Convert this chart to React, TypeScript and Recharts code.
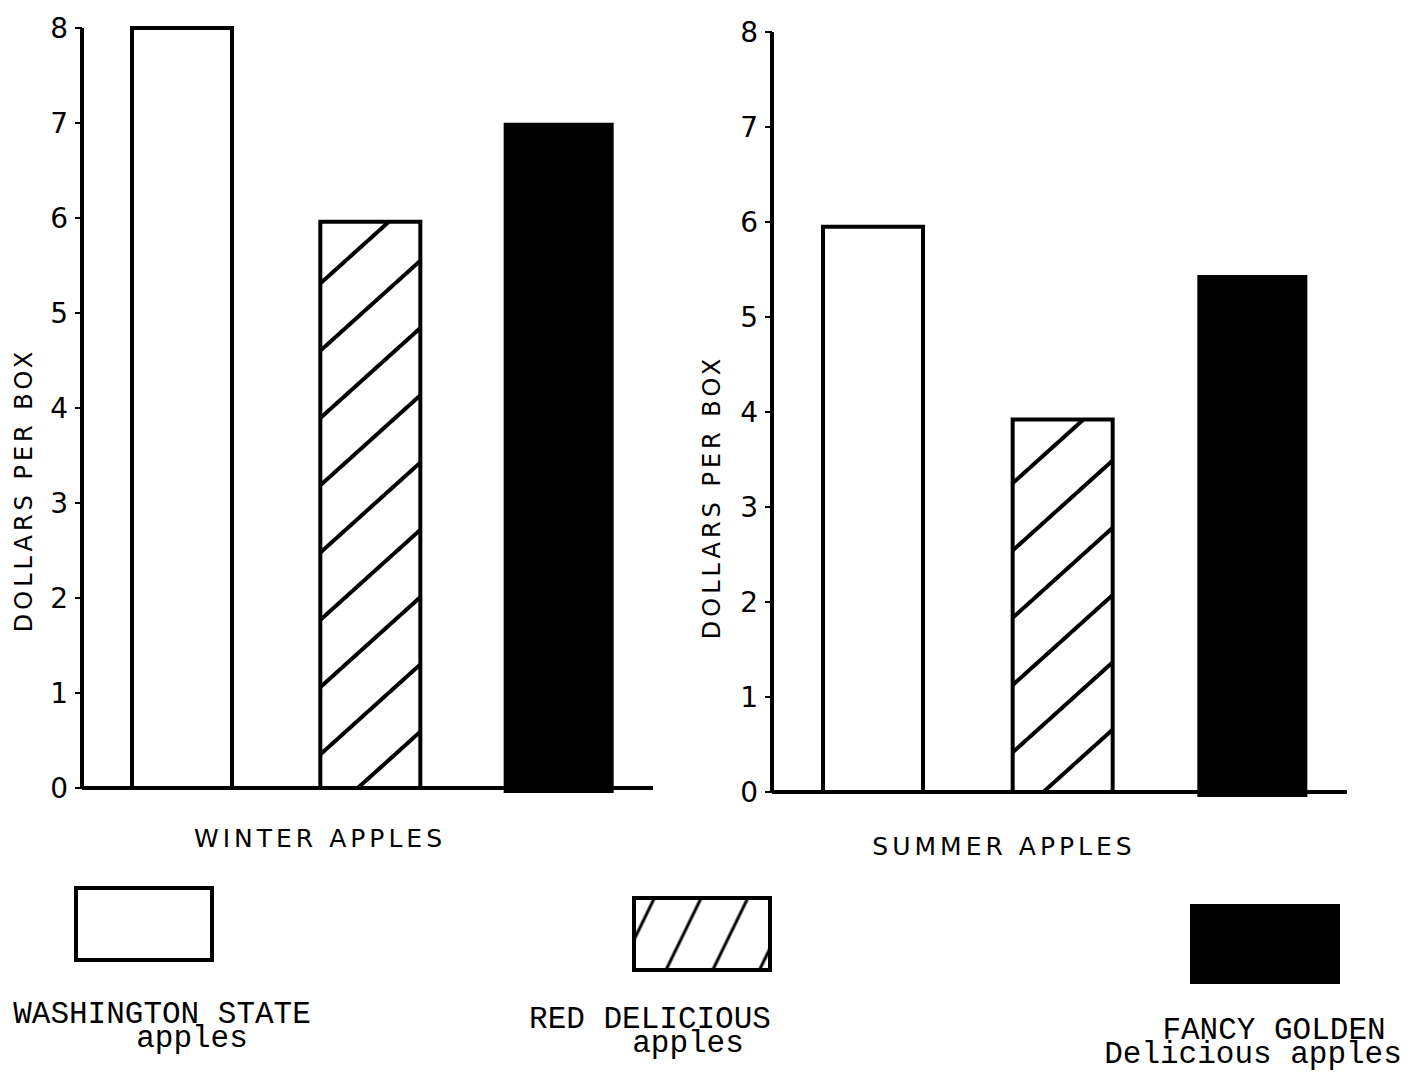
import { BarChart, Bar, Cell, XAxis, YAxis } from 'recharts'

const varieties = ['Washington State', 'Red Delicious', 'Fancy Golden Delicious']
const winterPrices = [8, 5.96, 6.95]
const summerPrices = [5.95, 3.92, 5.39]
const priceTicks = [0, 1, 2, 3, 4, 5, 6, 7, 8]
const legendLabels = [
  ['WASHINGTON STATE', 'apples'],
  ['RED DELICIOUS', 'apples'],
  ['FANCY GOLDEN', 'Delicious apples'],
]

const fills = ['#ffffff', 'url(#hatch)', '#000000']
const sans = '"DejaVu Sans", sans-serif'
const mono = '"Liberation Mono", monospace'

type ChartProps = {
  id: string
  prices: number[]
  title: string
  left: number
  top: number
  bottom: number
  right: number
  yLabelX: number
  yLabelY: number
  titleX: number
  titleY: number
}

function ApplesChart({ id, prices, title, left, top, bottom, right, yLabelX, yLabelY, titleX, titleY }: ChartProps) {
  const data = varieties.map((name, i) => ({ name, price: prices[i] }))
  return (
    <div style={{ position: 'absolute', left, top: 0 }}>
      <BarChart width={720} height={870} data={data} margin={{ top, right, bottom, left: 0 }}>
        <defs>
          <pattern id="hatch" patternUnits="userSpaceOnUse" width={12} height={50} patternTransform="rotate(-42)">
            <line x1={0} y1={25} x2={12} y2={25} stroke="#000" strokeWidth={4} />
          </pattern>
        </defs>
        <XAxis
          dataKey="name"
          tick={false}
          tickLine={false}
          height={60}
          padding={{ left: 6, right: 0 }}
          axisLine={{ stroke: '#000', strokeWidth: 4 }}
          label={{
            content: () => (
              <text x={titleX} y={titleY} textAnchor="middle" fontFamily={sans} fontSize={25} letterSpacing={4} fill="#000">
                {title}
              </text>
            ),
          }}
        />
        <YAxis
          width={82}
          domain={[0, 8]}
          ticks={priceTicks}
          interval={0}
          tickSize={7}
          tickMargin={7}
          tick={{ fontFamily: sans, fontSize: 28, fill: '#000' }}
          tickLine={{ stroke: '#000', strokeWidth: 2 }}
          axisLine={{ stroke: '#000', strokeWidth: 4 }}
          label={{
            content: () => (
              <text
                x={yLabelX}
                y={yLabelY}
                transform={`rotate(-90, ${yLabelX}, ${yLabelY})`}
                textAnchor="middle"
                dominantBaseline="central"
                fontFamily={sans}
                fontSize={24}
                letterSpacing={4}
                fill="#000"
              >
                DOLLARS PER BOX
              </text>
            ),
          }}
        />
        <Bar dataKey="price" barSize={100} stroke="#000" strokeWidth={4} isAnimationActive={false}>
          {data.map((d, i) => (
            <Cell key={`${id}-${d.name}`} fill={fills[i]} strokeWidth={i === 2 ? 10 : 4} />
          ))}
        </Bar>
      </BarChart>
    </div>
  )
}

function LegendSwatch({ kind }: { kind: number }) {
  return (
    <svg width={150} height={80} style={{ display: 'block' }}>
      <defs>
        <pattern id="legend-hatch" patternUnits="userSpaceOnUse" width={10} height={42} patternTransform="rotate(-64)">
          <line x1={0} y1={21} x2={10} y2={21} stroke="#000" strokeWidth={3} />
        </pattern>
      </defs>
      <rect
        x={2}
        y={2}
        width={kind === 2 ? 146 : 136}
        height={kind === 2 ? 76 : 72}
        fill={kind === 0 ? '#fff' : kind === 1 ? 'url(#legend-hatch)' : '#000'}
        stroke="#000"
        strokeWidth={4}
      />
    </svg>
  )
}

const swatchPos = [
  { left: 74, top: 886 },
  { left: 632, top: 896 },
  { left: 1190, top: 904 },
]
// c1/c2: centre of first/second line, t1: top of the block
const labelPos = [
  { c1: 162, c2: 192, t1: 1003 },
  { c1: 650, c2: 688, t1: 1008 },
  { c1: 1274, c2: 1253, t1: 1019 },
]

export default function App() {
  return (
    <div style={{ position: 'absolute', left: 0, top: 0, width: 1411, height: 1074, background: '#fff', overflow: 'hidden' }}>
      <ApplesChart
        id="winter"
        prices={winterPrices}
        title="WINTER APPLES"
        left={0}
        top={28}
        bottom={22}
        right={67}
        yLabelX={24}
        yLabelY={490}
        titleX={320}
        titleY={847}
      />
      <ApplesChart
        id="summer"
        prices={summerPrices}
        title="SUMMER APPLES"
        left={690}
        top={32}
        bottom={18}
        right={63}
        yLabelX={22}
        yLabelY={497}
        titleX={314}
        titleY={855}
      />
      {legendLabels.map((lines, i) => (
        <div key={lines[0]}>
          <div style={{ position: 'absolute', left: swatchPos[i].left, top: swatchPos[i].top }}>
            <LegendSwatch kind={i} />
          </div>
          <div
            style={{
              position: 'absolute',
              left: labelPos[i].c1,
              top: labelPos[i].t1,
              transform: 'translateX(-50%)',
              fontFamily: mono,
              fontSize: 31,
              lineHeight: '24px',
              textAlign: 'center',
              whiteSpace: 'nowrap',
            }}
          >
            {lines[0]}
            <br />
            <span style={{ position: 'relative', left: labelPos[i].c2 - labelPos[i].c1 }}>{lines[1]}</span>
          </div>
        </div>
      ))}
    </div>
  )
}
